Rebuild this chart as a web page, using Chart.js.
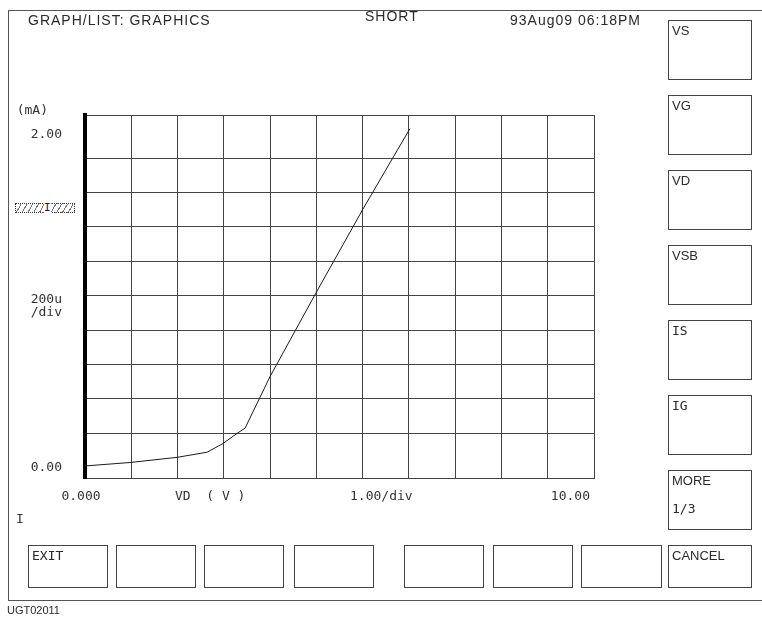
<!DOCTYPE html>
<html>
<head>
<meta charset="utf-8">
<script src="https://cdn.jsdelivr.net/npm/chart.js@4.4.0/dist/chart.umd.min.js"></script>
<style>
    html, body { margin: 0; padding: 0; background: #fff; }
    #page { position: relative; width: 762px; height: 621px; overflow: hidden; }
    #ivChart { position: absolute; left: 0; top: 0; }
    .rule { position: absolute; background: #555; }
    .hdr { position: absolute; font-family: "Liberation Sans", Arial, sans-serif; font-size: 14px; letter-spacing: 1px; color: #2a2a2a; white-space: pre; }
    .key { position: absolute; border: 1px solid #444; box-sizing: border-box; }
    .key span { position: absolute; left: 3px; font-size: 13px; color: #2a2a2a; white-space: pre; line-height: 16px; }
    .sans { font-family: "Liberation Sans", Arial, sans-serif; }
    .mono { font-family: "DejaVu Sans Mono", monospace; }
    .marker { position: absolute; left: 15px; top: 203px; width: 60px; height: 10px; border: 1px dotted #333; box-sizing: border-box;
        background: repeating-linear-gradient(120deg, #fff 0 4px, #777 4px 5px); }
    .marker i { position: absolute; left: 28px; top: -3px; font-style: normal; font: 11px "DejaVu Sans Mono", monospace; color: #222; background: #fff; line-height: 13px; }
</style>
</head>
<body>
<div id="page">
    <canvas id="ivChart" width="762" height="621"></canvas>
</div>
<script>
// drain voltage (V) and drain current (mA)
const vdValues = [0, 0.97, 1.99, 2.64, 2.98, 3.29, 3.46, 4.0, 5.0, 6.0, 7.02];
const idValues = [0.01, 0.03, 0.06, 0.09, 0.14, 0.20, 0.23, 0.53, 1.02, 1.50, 1.97];

const yTickLabels = ['2.00', '0.00'];
const yUnitLabel = '(mA)';
const yScaleLabels = ['200u', ' /div'];
const xTickLabels = ['0.000', '10.00'];
const xNameLabel = 'VD  ( V )';
const xScaleLabel = '1.00/div';

const headerTexts = ['GRAPH/LIST: GRAPHICS', 'SHORT', '93Aug09 06:18PM'];
const sideKeys = [['VS'], ['VG'], ['VD'], ['VSB'], ['IS'], ['IG'], ['MORE', '1/3']];
const bottomKeys = ['EXIT', '', '', '', '', '', '', 'CANCEL'];
const figureId = 'UGT02011';

document.addEventListener('DOMContentLoaded', function() {
    const page = document.getElementById('page');

    function addDiv(cls, left, top, width, height, text) {
        const el = document.createElement('div');
        el.className = cls;
        el.style.left = left + 'px';
        el.style.top = top + 'px';
        if (width != null) el.style.width = width + 'px';
        if (height != null) el.style.height = height + 'px';
        if (text != null) el.textContent = text;
        page.appendChild(el);
        return el;
    }

    // page frame
    addDiv('rule', 8, 10, 754, 1);
    addDiv('rule', 8, 10, 1, 590);
    addDiv('rule', 8, 600, 754, 1);

    // header
    addDiv('hdr', 28, 12, null, null, headerTexts[0]);
    addDiv('hdr', 365, 8, null, null, headerTexts[1]);
    addDiv('hdr', 510, 12, null, null, headerTexts[2]);

    const monoKeys = ['IS', 'IG', 'EXIT', '1/3'];
    function addKey(left, top, width, height, labels) {
        const box = addDiv('key', left, top, width, height);
        labels.forEach((label, i) => {
            if (!label) return;
            const s = document.createElement('span');
            s.className = monoKeys.includes(label) ? 'mono' : 'sans';
            s.textContent = label;
            s.style.top = (2 + i * 28) + 'px';
            box.appendChild(s);
        });
    }

    sideKeys.forEach((k, i) => addKey(668, 20 + i * 75, 84, 60, k));
    const bottomLefts = [28, 116, 204, 294, 404, 493, 581, 668];
    const bottomWidths = [80, 80, 80, 80, 80, 80, 81, 84];
    bottomKeys.forEach((k, i) => addKey(bottomLefts[i], 545, bottomWidths[i], 43, [k]));

    addDiv('marker', 15, 203).innerHTML = '<i>I</i>';

    const idEl = addDiv('hdr', 7, 604, null, null, figureId);
    idEl.style.fontSize = '11px';
    idEl.style.letterSpacing = '0px';
    idEl.style.fontFamily = '"Liberation Sans Narrow", "Liberation Sans", sans-serif';

    const labelPlugin = {
        id: 'instrumentLabels',
        afterDraw(chart) {
            const ctx = chart.ctx;
            const xs = chart.scales.x;
            const ys = chart.scales.y;
            const area = chart.chartArea;
            ctx.save();
            ctx.fillStyle = '#333';
            ctx.font = '13px "DejaVu Sans Mono", monospace';
            ctx.textBaseline = 'middle';

            ctx.textAlign = 'right';
            const yTop = ys.getPixelForValue(2) + 11;
            ctx.fillText(yUnitLabel, 48, yTop - 24);
            ctx.fillText(yTickLabels[0], 62, yTop);
            ctx.fillText(yScaleLabels[0], 62, ys.getPixelForValue(1) + 4);
            ctx.fillText(yScaleLabels[1], 62, ys.getPixelForValue(1) + 17);
            ctx.fillText(yTickLabels[1], 62, ys.getPixelForValue(0));

            const rowY = area.bottom + 19;
            ctx.textAlign = 'center';
            ctx.fillText(xTickLabels[0], xs.getPixelForValue(0) - 4, rowY);
            ctx.textAlign = 'right';
            ctx.fillText(xTickLabels[1], area.right - 4, rowY);
            ctx.textAlign = 'left';
            ctx.fillText(xNameLabel, area.left + 90, rowY);
            ctx.fillText(xScaleLabel, area.left + 265, rowY);
            ctx.fillText('I', 16, rowY + 23);
            ctx.restore();
        }
    };

    const ivChart = new Chart(document.getElementById('ivChart').getContext('2d'), {
        type: 'scatter',
        data: {
            datasets: [{
                label: 'ID',
                data: vdValues.map((v, i) => ({ x: v, y: idValues[i] })),
                showLine: true,
                borderColor: '#1a1a1a',
                borderWidth: 1,
                pointRadius: 0,
                tension: 0
            }]
        },
        options: {
            responsive: false,
            animation: false,
            devicePixelRatio: 1,
            layout: { padding: { left: 85, right: 168, top: 115, bottom: 143 } },
            plugins: {
                legend: { display: false },
                tooltip: { enabled: false }
            },
            scales: {
                x: {
                    type: 'linear',
                    min: 0,
                    max: 11,
                    ticks: { stepSize: 1, display: false },
                    grid: { color: '#444', lineWidth: 1, drawTicks: false },
                    border: { display: true, color: '#444', width: 1 }
                },
                y: {
                    min: -0.06,
                    max: 2.05,
                    ticks: { stepSize: 0.2, display: false },
                    grid: {
                        color: ctx => Math.abs(ctx.tick.value) < 1e-6 ? '#111' : '#444',
                        lineWidth: ctx => Math.abs(ctx.tick.value) < 1e-6 ? 1.5 : 1,
                        drawTicks: false
                    },
                    border: { display: true, color: '#000', width: 4 }
                }
            }
        },
        plugins: [labelPlugin]
    });
});
</script>
</body>
</html>
